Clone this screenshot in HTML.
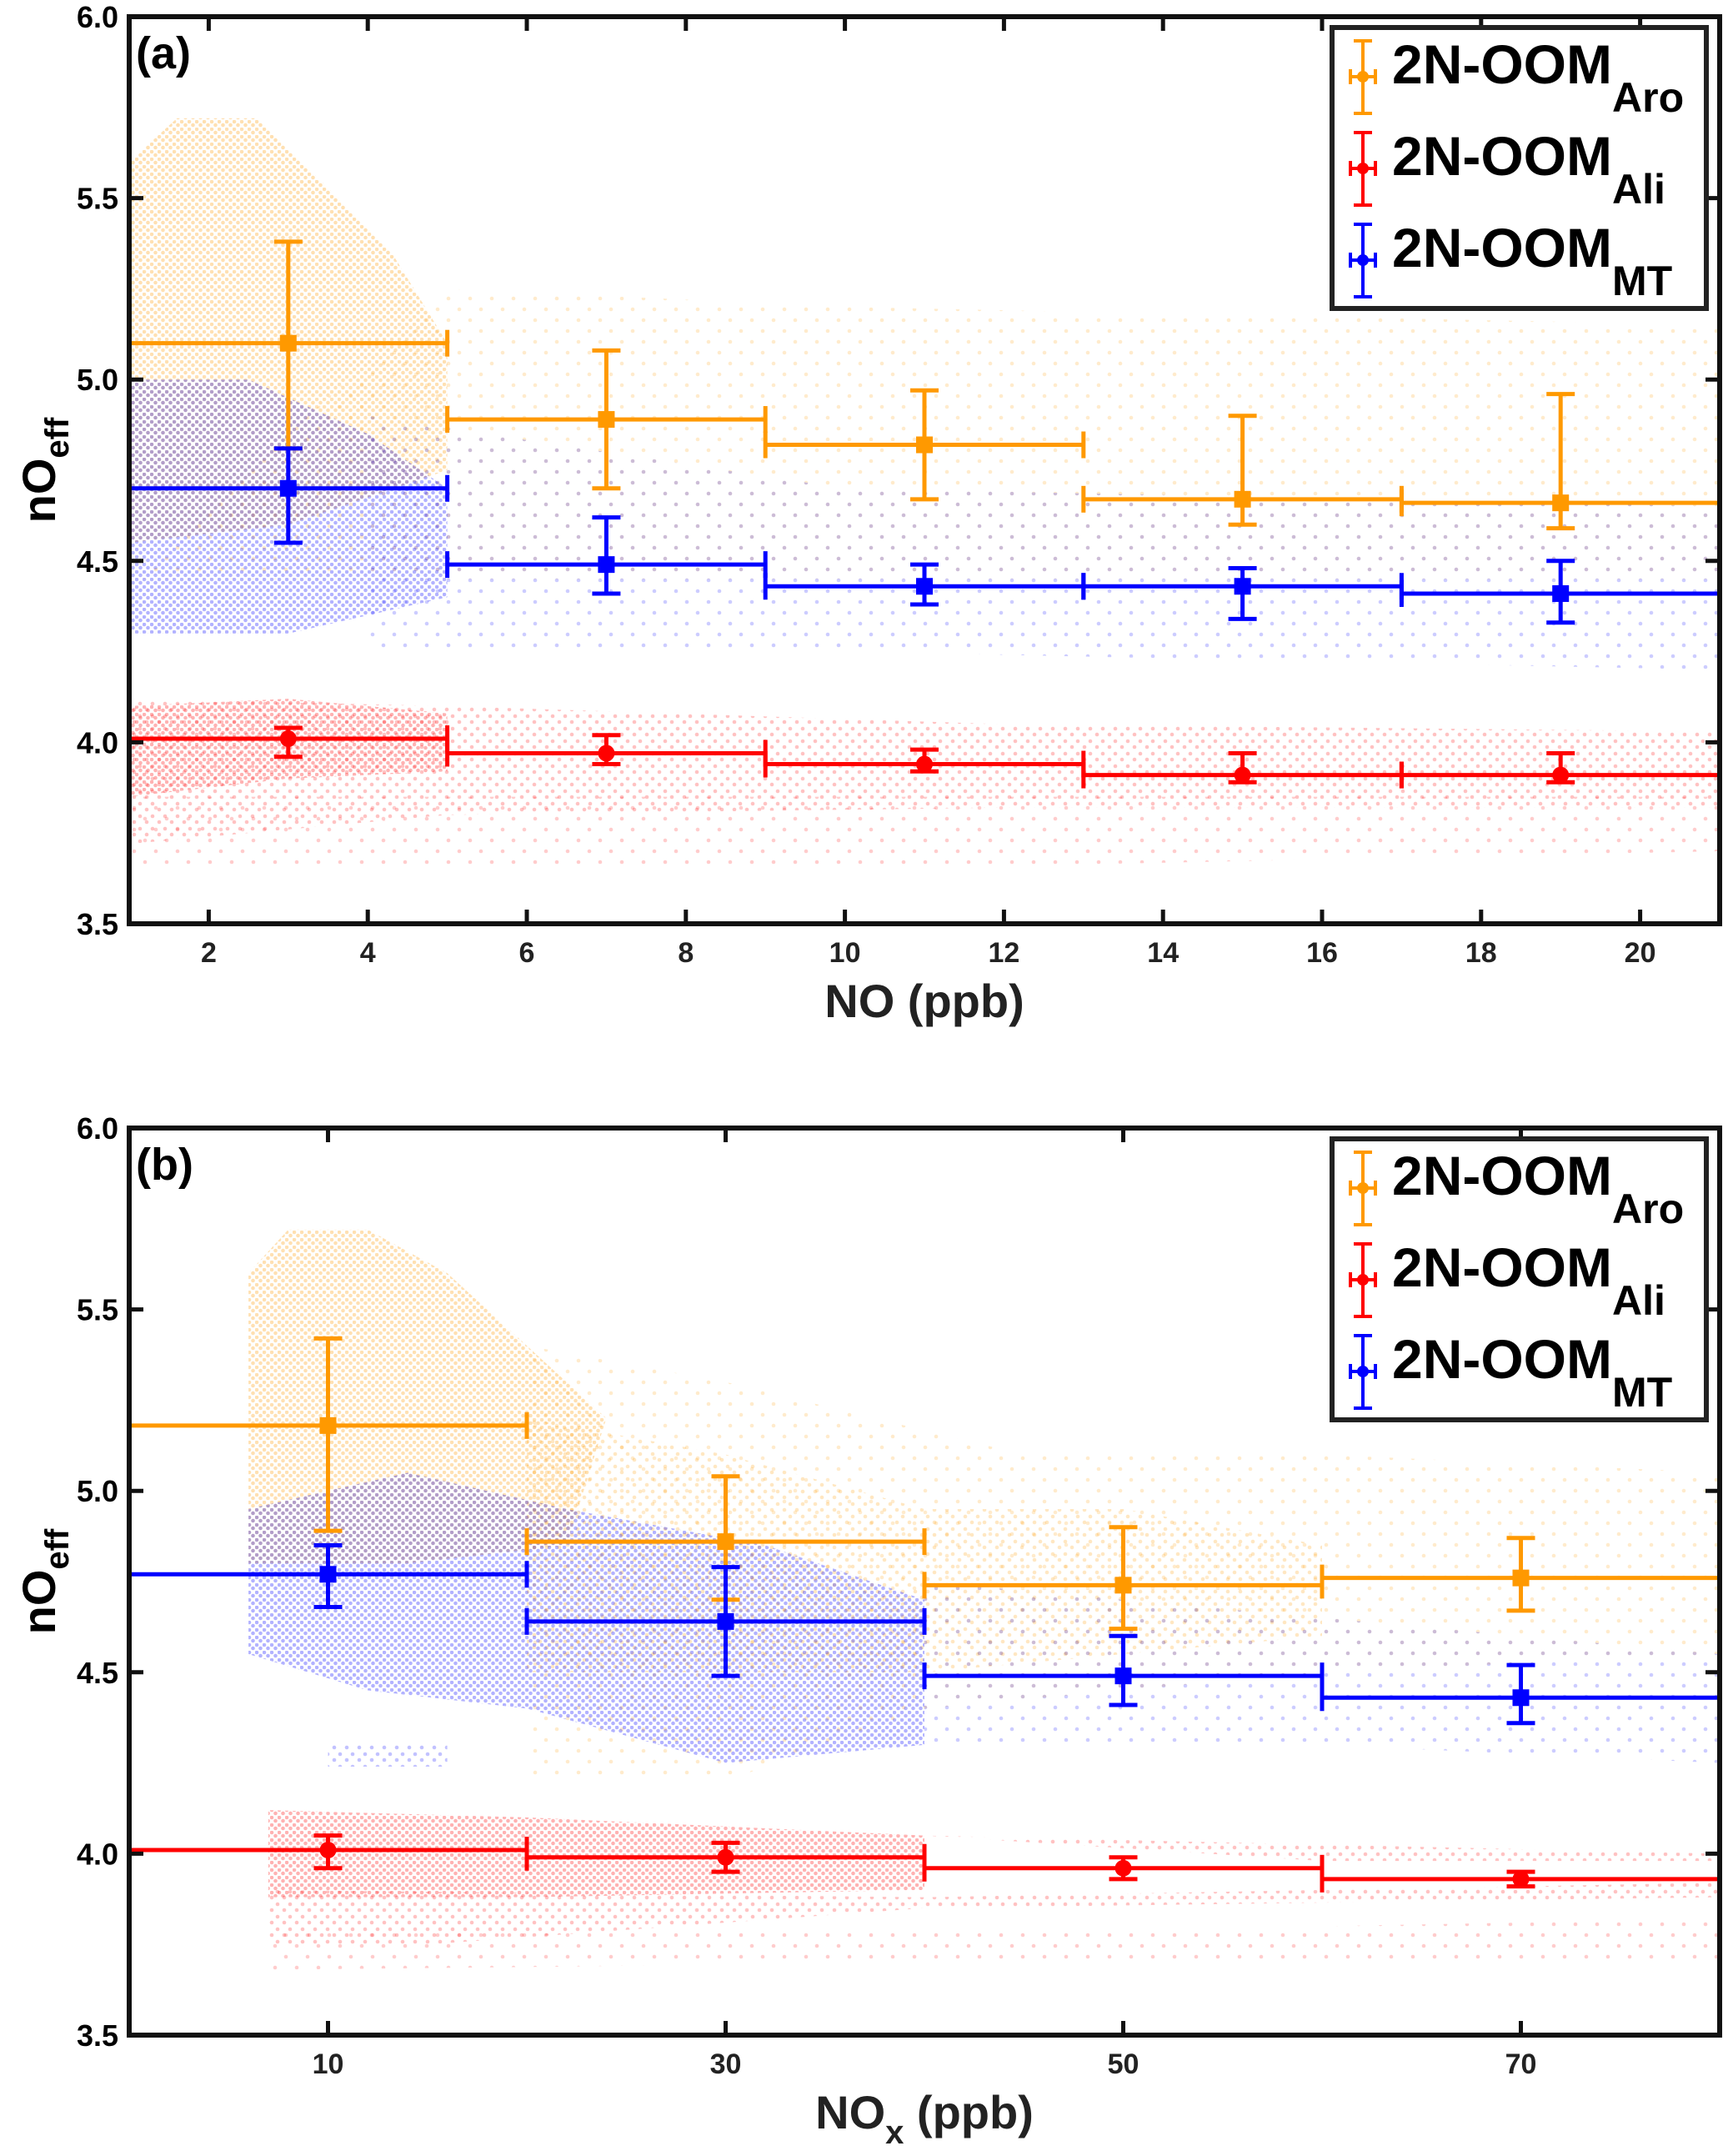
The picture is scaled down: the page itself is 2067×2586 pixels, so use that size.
<!DOCTYPE html>
<html><head><meta charset="utf-8">
<style>
html,body{margin:0;padding:0;background:#fff;}
svg{display:block;}
text{font-family:"Liberation Sans Narrow","Liberation Sans",Arial,sans-serif;font-weight:bold;}
</style></head>
<body>
<svg id="chart" width="2067" height="2586" viewBox="0 0 2067 2586" xmlns="http://www.w3.org/2000/svg">
<defs>
<pattern id="dense" width="9" height="9" patternUnits="userSpaceOnUse"><circle cx="2" cy="2" r="2.3"/><circle cx="6.5" cy="6" r="2.3"/></pattern>
<pattern id="med" width="15" height="15" patternUnits="userSpaceOnUse"><circle cx="3" cy="4" r="2.3"/><circle cx="11" cy="11" r="2.3"/></pattern>
<pattern id="sparse" width="26" height="26" patternUnits="userSpaceOnUse"><circle cx="5" cy="7" r="2.3"/><circle cx="18" cy="20" r="2.3"/></pattern>
</defs>
</svg>
<script>
// ---------- Panel (a): NO ----------
const aBinCenters = [3, 7, 11, 15, 19];
const aBinHalf = [2, 2, 2, 2, 2];
const aAroMean = [5.10, 4.89, 4.82, 4.67, 4.66];
const aAroLow  = [4.81, 4.70, 4.67, 4.60, 4.59];
const aAroHigh = [5.38, 5.08, 4.97, 4.90, 4.96];
const aMtMean  = [4.70, 4.49, 4.43, 4.43, 4.41];
const aMtLow   = [4.55, 4.41, 4.38, 4.34, 4.33];
const aMtHigh  = [4.81, 4.62, 4.49, 4.48, 4.50];
const aAliMean = [4.01, 3.97, 3.94, 3.91, 3.91];
const aAliLow  = [3.96, 3.94, 3.92, 3.89, 3.89];
const aAliHigh = [4.04, 4.02, 3.98, 3.97, 3.97];
const aXTicks = [2, 4, 6, 8, 10, 12, 14, 16, 18, 20];
// ---------- Panel (b): NOx ----------
const bBinCenters = [10, 30, 50, 70];
const bBinHalf = [10, 10, 10, 10];
const bAroMean = [5.18, 4.86, 4.74, 4.76];
const bAroLow  = [4.89, 4.70, 4.62, 4.67];
const bAroHigh = [5.42, 5.04, 4.90, 4.87];
const bMtMean  = [4.77, 4.64, 4.49, 4.43];
const bMtLow   = [4.68, 4.49, 4.41, 4.36];
const bMtHigh  = [4.85, 4.79, 4.60, 4.52];
const bAliMean = [4.01, 3.99, 3.96, 3.93];
const bAliLow  = [3.96, 3.95, 3.93, 3.91];
const bAliHigh = [4.05, 4.03, 3.99, 3.95];
const bXTicks = [10, 30, 50, 70];
const yTicks = [3.5, 4.0, 4.5, 5.0, 5.5, 6.0];

const aClouds = [
 {c:'aro',d:'sparse',p:[[1,4.45],[5,5.25],[10,5.2],[21,5.15],[21,4.45],[10,4.45],[5,4.45]]},
 {c:'aro',d:'dense',p:[[1,4.55],[1,5.6],[1.6,5.72],[2.6,5.72],[3.4,5.55],[4.3,5.35],[5,5.1],[5,4.75],[3,4.6]]},
 {c:'mt',d:'sparse',p:[[4,4.25],[4,4.9],[10,4.7],[21,4.65],[21,4.2],[10,4.25]]},
 {c:'mt',d:'dense',p:[[1,4.3],[1,5.0],[2.5,5.0],[4,4.85],[5,4.7],[5,4.4],[3,4.3]]},
 {c:'ali',d:'med',p:[[1,3.72],[1,4.12],[5,4.1],[12,4.05],[21,4.03],[21,3.82],[12,3.82],[5,3.8]]},
 {c:'ali',d:'dense',p:[[1,3.85],[1,4.1],[3,4.12],[5,4.08],[5,3.92],[3,3.9]]},
 {c:'ali',d:'sparse',p:[[1,3.65],[1,3.85],[21,3.85],[21,3.7],[10,3.65]]}
];
const bClouds = [
 {c:'aro',d:'sparse',p:[[20,4.2],[20,5.4],[30,5.3],[45,5.1],[60,5.1],[80,5.05],[80,4.55],[60,4.5],[40,4.4],[30,4.2]]},
 {c:'aro',d:'dense',p:[[6,4.8],[6,5.6],[8,5.72],[12,5.72],[16,5.6],[20,5.4],[24,5.2],[22,4.85],[14,4.8]]},
 {c:'aro',d:'med',p:[[20,4.5],[20,5.2],[30,5.1],[40,4.95],[50,4.95],[60,4.85],[60,4.6],[40,4.5]]},
 {c:'mt',d:'dense',p:[[6,4.55],[6,4.95],[14,5.05],[22,4.95],[32,4.85],[40,4.7],[40,4.3],[30,4.25],[20,4.4],[12,4.45]]},
 {c:'mt',d:'sparse',p:[[40,4.3],[40,4.75],[60,4.65],[80,4.55],[80,4.25],[60,4.3]]},
 {c:'mt',d:'med',p:[[10,4.24],[10,4.3],[16,4.3],[16,4.24]]},
 {c:'ali',d:'dense',p:[[7,3.88],[7,4.12],[20,4.1],[40,4.05],[40,3.9],[20,3.88]]},
 {c:'ali',d:'med',p:[[7,3.75],[7,3.9],[40,3.88],[80,3.92],[80,4.0],[40,4.05],[60,3.98],[80,3.98],[80,3.88],[40,3.85],[15,3.75]]},
 {c:'ali',d:'sparse',p:[[7,3.68],[7,3.78],[60,3.8],[80,3.82],[80,3.7],[40,3.7]]}
];
const colors = {aro:'#ff9900', mt:'#0000ff', ali:'#ff0000'};
const NS='http://www.w3.org/2000/svg';
const svg=document.getElementById('chart');
function mk(tag, attrs, parent){const e=document.createElementNS(NS,tag);for(const k in attrs)e.setAttribute(k,attrs[k]);(parent||svg).appendChild(e);return e;}

function panel(cfg){
 const L=155,R=2063,T=cfg.top,B=cfg.top+1088;
 const sx=v=>L+(v-cfg.xmin)/(cfg.xmax-cfg.xmin)*(R-L);
 const sy=v=>B-(v-3.5)/2.5*(B-T);
 const g=mk('g',{});
 
 
 const clipId='clip'+cfg.name;
 const cp=mk('clipPath',{id:clipId},g); mk('rect',{x:L,y:T,width:R-L,height:B-T},cp);
 const cg=mk('g',{'clip-path':'url(#'+clipId+')'},g);
 
 
 cfg.clouds.forEach(cl=>{
   const op={dense:0.3,med:0.24,sparse:0.2}[cl.d];
   const pg=mk('polygon',{points:cl.p.map(q=>sx(q[0])+','+sy(q[1])).join(' '),opacity:op},cg);
   pg.setAttribute('fill', 'url(#'+cl.d+'-'+cl.c+')');
   
   
 });
 cfg.series.forEach(s=>{
   const sg=mk('g',{stroke:colors[s.c],'stroke-width':5,fill:colors[s.c]},g);
   
   
   for(let i=0;i<cfg.centers.length;i++){
     const cx=sx(cfg.centers[i]),cy=sy(s.mean[i]);
     const x0=sx(cfg.centers[i]-cfg.half[i]),x1=sx(Math.min(cfg.centers[i]+cfg.half[i],cfg.xmax));
     const yl=sy(s.low[i]),yh=sy(s.high[i]);
     mk('line',{x1:x0,y1:cy,x2:x1,y2:cy},sg);
     mk('line',{x1:x0,y1:cy-16,x2:x0,y2:cy+16},sg);
     if(cfg.centers[i]+cfg.half[i]<=cfg.xmax-0.01) mk('line',{x1:x1,y1:cy-16,x2:x1,y2:cy+16},sg);
     mk('line',{x1:cx,y1:yl,x2:cx,y2:yh},sg);
     mk('line',{x1:cx-17,y1:yl,x2:cx+17,y2:yl},sg);
     mk('line',{x1:cx-17,y1:yh,x2:cx+17,y2:yh},sg);
     const m=(s.c==='ali')?mk('circle',{cx:cx,cy:cy,r:10,stroke:'none'},sg):mk('rect',{x:cx-10,y:cy-10,width:20,height:20,stroke:'none'},sg);
     
     
   }
 });
 const fr=mk('rect',{x:L,y:T,width:R-L,height:B-T,fill:'none',stroke:'#111','stroke-width':6},g);
 
 
 cfg.xticks.forEach(v=>{
   const x=sx(v);
   mk('line',{x1:x,y1:B,x2:x,y2:B-17,stroke:'#111','stroke-width':5},g);
   mk('line',{x1:x,y1:T,x2:x,y2:T+17,stroke:'#111','stroke-width':5},g);
   const t=mk('text',{x:x,y:B+46,'text-anchor':'middle','font-size':34,fill:'#222'},g);
   t.textContent=v;
   
   
 });
 yTicks.forEach(v=>{
   const y=sy(v);
   mk('line',{x1:L,y1:y,x2:L+17,y2:y,stroke:'#111','stroke-width':5},g);
   mk('line',{x1:R,y1:y,x2:R-17,y2:y,stroke:'#111','stroke-width':5},g);
   const t=mk('text',{x:L-13,y:y+13,'text-anchor':'end','font-size':36,fill:'#000'},g);
   t.textContent=v.toFixed(1);
   
   
 });
 const pl=mk('text',{x:163,y:T+62,'font-size':54,fill:'#000'},g);
 pl.textContent=cfg.label;
 
 
 const yt=mk('text',{transform:'translate(66,'+((T+B)/2)+') rotate(-90)','text-anchor':'middle','font-size':56,fill:'#000','font-family':'Liberation Sans, sans-serif'},g);
 yt.innerHTML='nO<tspan font-size="40" dy="16">eff</tspan>';
 
 
 const xt=mk('text',{x:1109,y:B+112,'text-anchor':'middle','font-size':56,fill:'#222','font-family':'Liberation Sans, sans-serif'},g);
 xt.innerHTML=cfg.xtitle;
 
 
 const lg=mk('g',{},g);
 
 
 mk('rect',{x:1598,y:T+13,width:449,height:337,fill:'#fff',stroke:'#222','stroke-width':6},lg);
 [['aro','Aro'],['ali','Ali'],['mt','MT']].forEach((e,k)=>{
   const oy=T+k*110;
   const eg=mk('g',{stroke:colors[e[0]],'stroke-width':4,fill:colors[e[0]]},lg);
   
   
   mk('line',{x1:1635,y1:oy+29,x2:1635,y2:oy+116},eg);
   mk('line',{x1:1624,y1:oy+29,x2:1646,y2:oy+29},eg);
   mk('line',{x1:1624,y1:oy+116,x2:1646,y2:oy+116},eg);
   mk('line',{x1:1620,y1:oy+72,x2:1650,y2:oy+72},eg);
   mk('line',{x1:1620,y1:oy+63,x2:1620,y2:oy+81},eg);
   mk('line',{x1:1650,y1:oy+63,x2:1650,y2:oy+81},eg);
   mk('circle',{cx:1635,cy:oy+72,r:7,stroke:'none'},eg);
   const t=mk('text',{x:1670,y:oy+80,'font-size':66,fill:'#000','font-family':'Liberation Sans, sans-serif'},lg);
   t.innerHTML='2N-OOM<tspan font-size="50" dy="34">'+e[1]+'</tspan>';
   
   
 });
}
['dense','med','sparse'].forEach(d=>{
 const base=document.getElementById(d);
 ['aro','mt','ali'].forEach(c=>{
   const p=base.cloneNode(true); p.id=d+'-'+c; p.setAttribute('fill',colors[c]);
   base.parentNode.appendChild(p);
 });
});
panel({name:'panel-a',top:20,xmin:1,xmax:21,centers:aBinCenters,half:aBinHalf,xticks:aXTicks,clouds:aClouds,label:'(a)',
 xtitle:'NO (ppb)',
 series:[{c:'aro',mean:aAroMean,low:aAroLow,high:aAroHigh},{c:'mt',mean:aMtMean,low:aMtLow,high:aMtHigh},{c:'ali',mean:aAliMean,low:aAliLow,high:aAliHigh}]});
panel({name:'panel-b',top:1353,xmin:0,xmax:80,centers:bBinCenters,half:bBinHalf,xticks:bXTicks,clouds:bClouds,label:'(b)',
 xtitle:'NO<tspan font-size="40" dy="18">x</tspan><tspan dy="-18"> (ppb)</tspan>',
 series:[{c:'aro',mean:bAroMean,low:bAroLow,high:bAroHigh},{c:'mt',mean:bMtMean,low:bMtLow,high:bMtHigh},{c:'ali',mean:bAliMean,low:bAliLow,high:bAliHigh}]});
</script>
</body></html>
